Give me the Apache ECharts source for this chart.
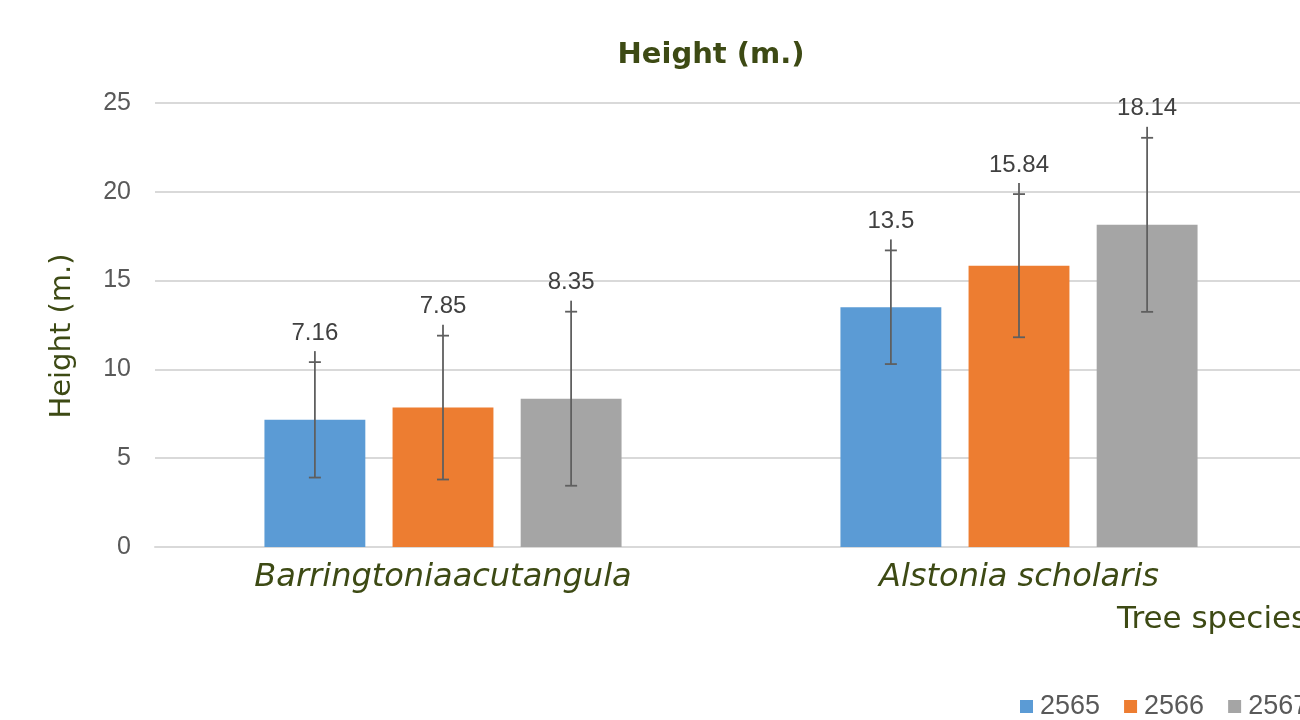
<!DOCTYPE html>
<html><head><meta charset="utf-8">
<script src="https://cdn.jsdelivr.net/npm/echarts@6/dist/echarts.min.js"></script>
<style>html,body{margin:0;padding:0;background:#fff}#c{width:1300px;height:720px}</style>
</head><body><div id="c"></div>
<script>
const categories = ['Barringtoniaacutangula', 'Alstonia scholaris'];
const seriesNames = ['2565', '2566', '2567'];
const values2565 = [7.16, 13.5];
const values2566 = [7.85, 15.84];
const values2567 = [8.35, 18.14];
const err2565 = [3.25, 3.2];
const err2566 = [4.05, 4.03];
const err2567 = [4.9, 4.9];
const yTicks = [0, 5, 10, 15, 20, 25];
const colors = ['#5b9bd5', '#ed7d31', '#a5a5a5'];

const allValues = [values2565, values2566, values2567];
const allErr = [err2565, err2566, err2567];
const BAR_GAP = 0.27, CAT_GAP = 0.38;
const FONT = '"DejaVu Sans", sans-serif';
const NUMFONT = '"Liberation Sans", Arial, sans-serif';
const GREEN = '#3d4a14';

function errSeries(si) {
  return {
    type: 'custom',
    name: seriesNames[si],
    z: 5,
    data: categories.map((c, i) => [i, allValues[si][i], allValues[si][i] - allErr[si][i], allValues[si][i] + allErr[si][i]]),
    renderItem: function (params, api) {
      const idx = api.value(0);
      const catW = api.size([1, 0])[0];
      const bw = catW * (1 - CAT_GAP) / (3 + 2 * BAR_GAP);
      const off = (si - 1) * bw * (1 + BAR_GAP);
      const lo = api.coord([idx, api.value(2)]);
      const hi = api.coord([idx, api.value(3)]);
      const x = lo[0] + off;
      const ext = 11;
      const capW = 12;
      const st = { stroke: '#5f5f5f', lineWidth: 1.8 };
      return {
        type: 'group',
        children: [
          { type: 'line', shape: { x1: x, y1: lo[1], x2: x, y2: hi[1] - ext }, style: st },
          { type: 'line', shape: { x1: x - capW / 2, y1: lo[1], x2: x + capW / 2, y2: lo[1] }, style: st },
          { type: 'line', shape: { x1: x - capW / 2, y1: hi[1], x2: x + capW / 2, y2: hi[1] }, style: st },
          { type: 'text', style: { text: String(api.value(1)), x: x, y: hi[1] - 29, align: 'center', verticalAlign: 'middle',
              fill: '#404040', font: '24px ' + NUMFONT } }
        ]
      };
    }
  };
}

const option = {
  animation: false,
  backgroundColor: '#ffffff',
  color: colors,
  title: {
    text: 'Height (m.)', left: 706, top: 36, textAlign: 'center',
    textStyle: { color: GREEN, fontSize: 29, fontWeight: 'bold', fontFamily: FONT }
  },
  legend: {
    data: seriesNames, left: 1015, top: 688, width: 600, itemWidth: 13, itemHeight: 13, itemGap: 24,
    icon: 'rect',
    textStyle: { color: '#595959', fontSize: 27, fontFamily: NUMFONT, padding: [0, 0, 0, 2] }
  },
  grid: { left: 155, width: 1152, top: 103, height: 444, outerBoundsMode: 'none', containLabel: false },
  xAxis: {
    type: 'category', data: categories,
    axisLine: { lineStyle: { color: '#d9d9d9', width: 2 } },
    axisTick: { show: false },
    axisLabel: { color: GREEN, fontSize: 32, fontStyle: 'italic', fontFamily: FONT, margin: 15 }
  },
  yAxis: {
    type: 'value', min: 0, max: 25, interval: 5,
    axisLabel: { color: '#595959', fontSize: 25, fontFamily: NUMFONT, margin: 24,
      formatter: v => yTicks.includes(v) ? String(v) : '' },
    splitLine: { lineStyle: { color: '#d9d9d9', width: 2 } },
    axisLine: { show: false }, axisTick: { show: false }
  },
  graphic: [{
    type: 'text', x: 62, y: 336, rotation: Math.PI / 2,
    style: { text: 'Height (m.)', fill: GREEN, font: '29px ' + FONT, align: 'center', verticalAlign: 'middle' }
  }, {
    type: 'text', left: 1117, top: 604,
    style: { text: 'Tree species', fill: GREEN, font: '31px ' + FONT }
  }],
  series: [
    ...seriesNames.map((n, si) => ({
      type: 'bar', name: n, data: allValues[si], barGap: (BAR_GAP * 100) + '%', barCategoryGap: (CAT_GAP * 100) + '%',
      itemStyle: { color: colors[si] }
    })),
    errSeries(0), errSeries(1), errSeries(2)
  ]
};
echarts.init(document.getElementById('c')).setOption(option);
</script></body></html>
